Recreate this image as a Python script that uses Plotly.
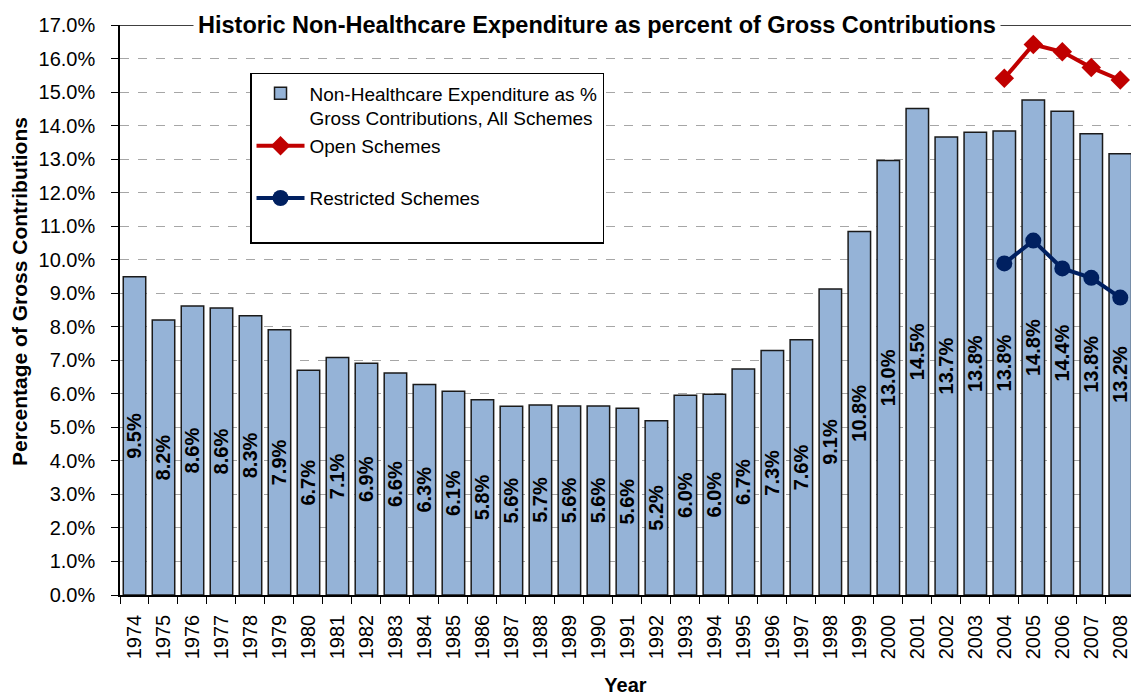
import plotly.graph_objects as go

years = [str(y) for y in range(1974, 2009)]
all_schemes = [9.49, 8.20, 8.62, 8.56, 8.33, 7.91, 6.70, 7.08, 6.91, 6.62,
               6.28, 6.08, 5.82, 5.63, 5.67, 5.64, 5.64, 5.57, 5.20, 5.96,
               5.99, 6.74, 7.29, 7.61, 9.13, 10.84, 12.96, 14.51, 13.66, 13.80,
               13.84, 14.76, 14.43, 13.76, 13.16]
line_years = ["2004", "2005", "2006", "2007", "2008"]
open_schemes = [15.41, 16.42, 16.20, 15.73, 15.36]
restricted_schemes = [9.89, 10.57, 9.74, 9.46, 8.87]

FONT = "Liberation Sans, Arial, sans-serif"

fig = go.Figure()
fig.add_trace(go.Bar(
    x=years, y=all_schemes,
    name="Non-Healthcare Expenditure as %<br>Gross Contributions, All Schemes",
    marker=dict(color="#95B3D7", line=dict(color="#1a1a1a", width=1.5)),
    texttemplate="%{y:.1f}%", textposition="inside", insidetextanchor="middle",
    textangle=-90, constraintext="none",
    insidetextfont=dict(family=FONT, size=20, color="black", weight="bold"),
    width=0.775, legendgroup="a",
))
fig.add_trace(go.Scatter(
    x=line_years, y=open_schemes, name="Open Schemes<br>&nbsp;", mode="lines+markers",
    line=dict(color="#C00000", width=4),
    marker=dict(symbol="diamond", size=15, color="#C00000"), legendgroup="b",
))
fig.add_trace(go.Scatter(
    x=line_years, y=restricted_schemes, name="Restricted Schemes<br>&nbsp;", mode="lines+markers",
    line=dict(color="#002060", width=4),
    marker=dict(symbol="circle", size=16, color="#002060"), legendgroup="c",
))

fig.update_layout(
    width=1123, height=690,
    margin=dict(l=112, r=0, t=17, b=103),
    paper_bgcolor="white", plot_bgcolor="white",
    font=dict(family=FONT, size=19, color="black"),
    bargap=0.225,
    showlegend=True,
    legend=dict(x=0.1286, y=0.916, xanchor="left", yanchor="top",
                bordercolor="black", borderwidth=1.5, bgcolor="white",
                font=dict(size=19), tracegroupgap=0, traceorder="normal",
                valign="top", itemwidth=48),
    xaxis=dict(type="category", range=[-0.5, 34.37], showline=True, linecolor="black",
               linewidth=1.5, ticks="outside", ticklen=7, tickcolor="black",
               tickson="boundaries", tickangle=-90, showgrid=False, automargin=False,
               tickfont=dict(size=20), ticklabelstandoff=10,
               title=dict(text="<b>Year</b>", font=dict(size=20), standoff=20)),
    yaxis=dict(range=[0, 17], dtick=1, tickformat=".1f", ticksuffix="%",
               showline=True, linecolor="black", linewidth=1.5, ticks="outside",
               ticklen=7, tickcolor="black", showgrid=True, gridcolor="#a6a6a6",
               griddash="dash", gridwidth=1, zeroline=False, ticklabelstandoff=12,
               automargin=False, tickfont=dict(size=20)),
)
fig.add_shape(type="line", xref="paper", yref="y", x0=0, x1=1, y0=17, y1=17,
              line=dict(color="black", width=1.5))
fig.add_annotation(xref="paper", yref="y", x=0.472, y=17, yanchor="middle",
                   text="<b>Historic Non-Healthcare Expenditure as percent of Gross Contributions</b>",
                   showarrow=False, bgcolor="white", font=dict(size=23.5),
                   borderpad=4)
fig.add_annotation(xref="paper", yref="paper", x=0, y=0.5316, xshift=-100,
                   xanchor="center", yanchor="middle", textangle=-90,
                   text="<b>Percentage of Gross Contributions</b>",
                   showarrow=False, font=dict(size=21))

fig.write_html("out.html")
